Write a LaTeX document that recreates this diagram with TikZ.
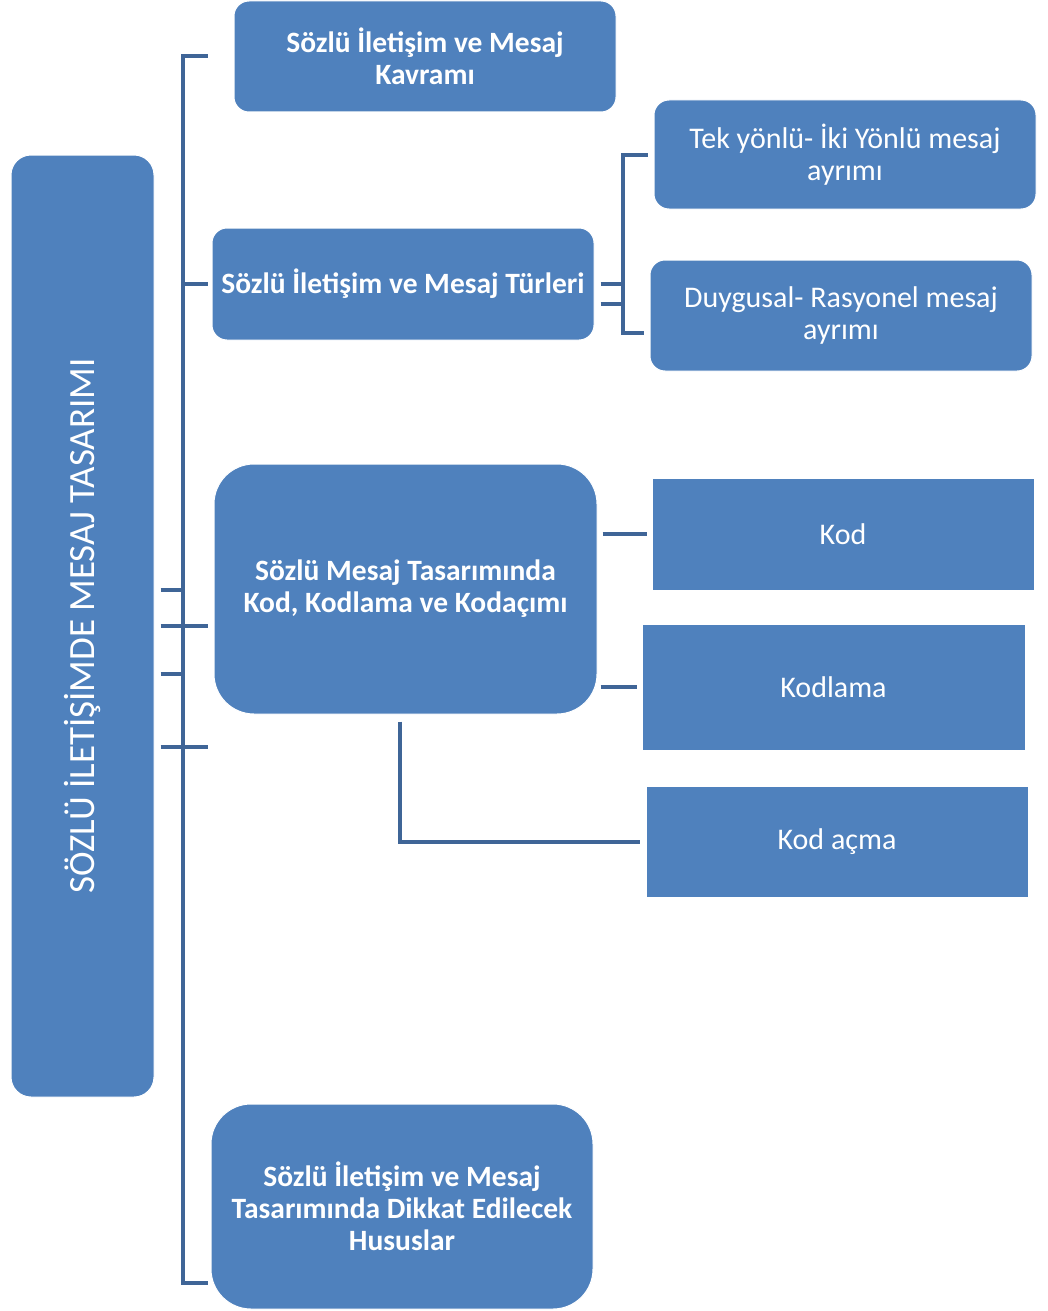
\documentclass[tikz,border=0pt]{standalone}
\usepackage{fontspec}
\setmainfont{Carlito}
\definecolor{kutumavi}{HTML}{4F81BD}
\definecolor{cizgimavi}{HTML}{3F6597}

\begin{document}
\begin{tikzpicture}[x=1pt,y=-1pt,
    kutu/.style={fill=kutumavi, draw=white, line width=1pt, text=white, align=center,
        inner sep=0pt, minimum width=382pt, minimum height=111pt,
        font=\fontsize{30}{32}\selectfont},
    kalin/.style={font=\fontsize{29.5}{32}\selectfont\bfseries},
    yuvarlak/.style={kutu, rounded corners=15pt},
    genis/.style={kutu, rounded corners=40pt},
    baglac/.style={cizgimavi, line width=4pt}]

    % sayfa sinirlari
    \useasboundingbox (0,0) rectangle (1048,1311);

    % ana kutu (dikey yazi)
    \node[kutu, rounded corners=20pt, minimum width=143pt, minimum height=942pt] (ana) at (82.5,626) {};
    \node[text=white, rotate=90, font=\fontsize{37}{40}\selectfont] (baslik) at (ana.center) {SÖZLÜ İLETİŞİMDE MESAJ TASARIMI};

    % ikinci duzey kutular
    \node[yuvarlak, kalin] (kavram) at (425,56.5) {Sözlü İletişim ve Mesaj\\Kavramı};
    \node[yuvarlak, kalin, minimum height=112pt] (turler) at (403,284) {Sözlü İletişim ve Mesaj Türleri};
    \node[genis, kalin, minimum width=383pt, minimum height=250pt] (kodlar) at (405.5,589) {Sözlü Mesaj Tasarımında\\Kod, Kodlama ve Kodaçımı};
    \node[genis, kalin, minimum height=205pt] (dikkat) at (402,1206.5) {Sözlü İletişim ve Mesaj\\Tasarımında Dikkat Edilecek\\Hususlar};

    % ucuncu duzey kutular
    \node[yuvarlak, minimum height=109pt] (tek) at (845,154.5) {Tek yönlü- İki Yönlü mesaj\\ayrımı};
    \node[yuvarlak] (duygu) at (841,315.5) {Duygusal- Rasyonel mesaj\\ayrımı};
    \node[kutu, minimum height=112pt] (kod) at (843,534) {Kod};
    \node[kutu, minimum width=383pt, minimum height=126pt] (kodlama) at (833.5,687) {Kodlama};
    \node[kutu] (kodacma) at (837,841.5) {Kod açma};

    % sol parantez
    \draw[baglac] ([xshift=-26pt]kavram.west) -| (183,1283) -- ([xshift=-3pt]dikkat.west |- 0,1283);
    \draw[baglac] (183,284) -- ([xshift=-4pt]turler.west);
    \foreach \y in {590,674}
        \draw[baglac] (ana.east |- 0,\y) ++(6,0) -- (183,\y);
    \foreach \y in {626,747}
        \draw[baglac] (ana.east |- 0,\y) ++(6,0) -- (208,\y);

    % turler parantezi
    \draw[baglac] ([xshift=-6pt]tek.west) -| (623,333) -- ([xshift=-6pt]duygu.west |- 0,333);
    \foreach \y in {284,304}
        \draw[baglac] (turler.east |- 0,\y) ++(6,0) -- (623,\y);

    % kod baglaclari
    \draw[baglac, shorten <=5pt, shorten >=5pt] (kodlar.east |- kod.west) -- (kod.west);
    \draw[baglac, shorten <=3pt, shorten >=5pt] (kodlar.east |- kodlama.west) -- (kodlama.west);
    \draw[baglac] ([xshift=-5.5pt,yshift=-7pt]kodlar.south) |- ([xshift=-6pt]kodacma.west);
\end{tikzpicture}
\end{document}
